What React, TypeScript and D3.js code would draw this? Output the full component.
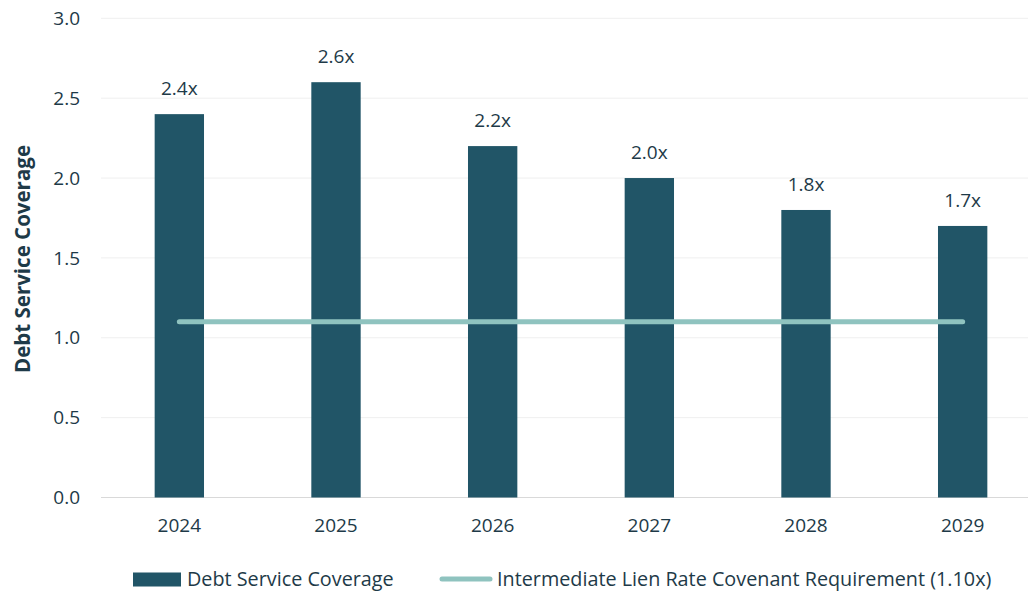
import React from "react";
import * as d3 from "d3";

const years = ["2024", "2025", "2026", "2027", "2028", "2029"];
const coverage = [2.4, 2.6, 2.2, 2.0, 1.8, 1.7];
const covenant = [1.1, 1.1, 1.1, 1.1, 1.1, 1.1];
const yTicks = [0, 0.5, 1.0, 1.5, 2.0, 2.5, 3.0];

const W = 1028;
const H = 593;
const BAR = "#215567";
const LINE = "#8fc3bf";
const TXT = "#1e3a48";
const FONT = "'Open Sans', sans-serif";

export default function App() {
  const x = d3.scaleBand<string>().domain(years).range([101, 1041]).paddingInner(0.685).paddingOuter(0.3425);
  const y = d3.scaleLinear().domain([0, 3]).range([497.5, 18.3]);
  const cx = (d: string) => (x(d) as number) + x.bandwidth() / 2;
  const line = d3
    .line<number>()
    .x((_, i) => cx(years[i]))
    .y((d) => y(d));

  return (
    <svg width={W} height={H} style={{ position: "absolute", left: 0, top: 0, background: "#fff" }} fontFamily={FONT}>
      {yTicks.map((t) => (
        <g key={t}>
          <line x1={101} x2={W} y1={y(t)} y2={y(t)} stroke={t === 0 ? "#d9d9d9" : "#efefef"} strokeWidth={1} />
          <text x={80} y={y(t)} dy="0.35em" textAnchor="end" fontSize={19} fill={TXT}>
            {t.toFixed(1)}
          </text>
        </g>
      ))}
      {years.map((yr, i) => (
        <g key={yr}>
          <rect x={x(yr)} y={y(coverage[i])} width={x.bandwidth()} height={y(0) - y(coverage[i])} fill={BAR} />
          <text x={cx(yr)} y={y(coverage[i]) - 19} textAnchor="middle" fontSize={19} fill={TXT}>
            {coverage[i].toFixed(1)}x
          </text>
          <text x={cx(yr)} y={525} dy="0.35em" textAnchor="middle" fontSize={19} fill={TXT}>
            {yr}
          </text>
        </g>
      ))}
      <path d={line(covenant) || ""} fill="none" stroke={LINE} strokeWidth={5} strokeLinecap="round" />
      <text
        transform={`translate(23,259) rotate(-90)`}
        textAnchor="middle"
        dy="0.35em"
        fontSize={20.5}
        fontWeight="bold"
        fill={TXT}
      >
        Debt Service Coverage
      </text>
      <rect x={133} y={572.5} width={48} height={14} fill={BAR} />
      <text x={187} y={579} dy="0.35em" fontSize={19.8} fill={TXT}>
        Debt Service Coverage
      </text>
      <line x1={442} x2={490} y1={579} y2={579} stroke={LINE} strokeWidth={5} strokeLinecap="round" />
      <text x={497} y={579} dy="0.35em" fontSize={19.8} fill={TXT}>
        Intermediate Lien Rate Covenant Requirement (1.10x)
      </text>
    </svg>
  );
}
